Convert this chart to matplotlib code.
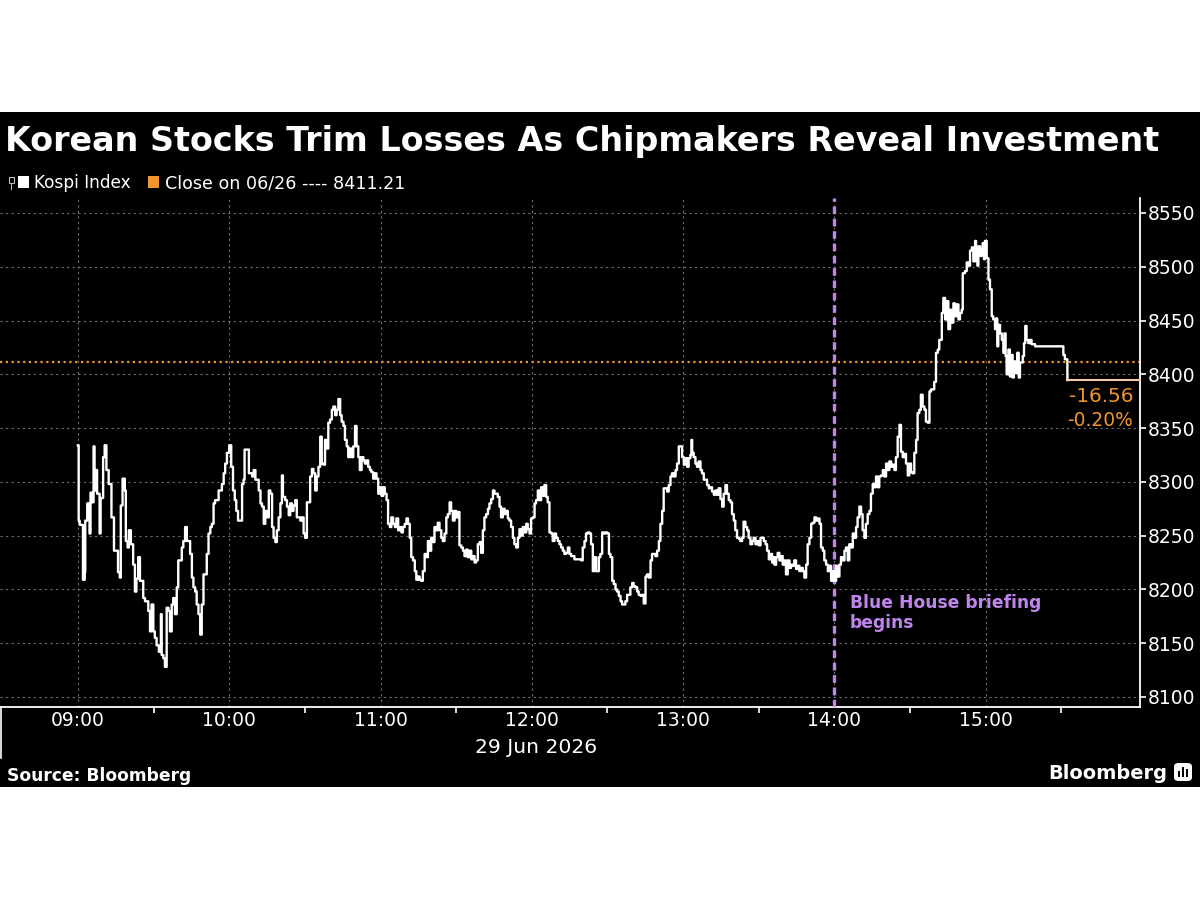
import matplotlib
matplotlib.use("Agg")
import matplotlib.pyplot as plt
import numpy as np
from matplotlib.patches import Rectangle, FancyBboxPatch
from matplotlib.lines import Line2D

# ---------------- data (minutes after 09:00, Kospi index level) ----------------
min_0900 = [0, 0.3, 0.7, 2.0, 2.7, 2.9, 3.7, 4.6, 5.0, 5.6, 6.2, 6.6, 6.9, 7.6, 8.6, 9.0,
            10.0, 10.6, 11.3, 12.2, 13.3, 14.3, 15.9, 16.6, 17.0, 17.7, 18.6, 19.0, 19.7,
            20.2, 21.0, 21.9, 22.6, 23.2, 23.9, 24.6, 25.9, 26.6, 27.9, 28.6, 29.2, 29.9,
            30.5, 31.2, 32.1, 32.9, 33.2, 33.9, 34.5, 35.2, 35.9, 36.5, 37.2, 37.8, 38.5,
            39.2, 39.8, 41.2, 41.8, 42.5, 43.2, 44.5, 45.2, 45.8, 46.5, 47.1, 47.8, 48.5,
            49.1, 49.8, 51.1, 51.8, 52.5, 53.1, 53.8, 54.4, 55.8, 57.1, 57.8, 58.4, 59.1]
val_0900 = [8334, 8264, 8260, 8209, 8216, 8264, 8280, 8252, 8290, 8281, 8333, 8292, 8311, 8289, 8252, 8285,
            8323, 8334, 8311, 8298, 8267, 8236, 8216, 8211, 8278, 8303, 8292, 8245, 8239,
            8255, 8242, 8223, 8198, 8210, 8230, 8208, 8192, 8189, 8180, 8161, 8186, 8161,
            8155, 8148, 8142, 8177, 8139, 8136, 8128, 8183, 8180, 8161, 8186, 8192, 8177,
            8202, 8227, 8239, 8245, 8258, 8245, 8233, 8211, 8202, 8198, 8186, 8177, 8158,
            8186, 8214, 8233, 8252, 8258, 8261, 8280, 8283, 8292, 8298, 8308, 8317, 8327]

min_1000 = [60.0, 60.8, 61.5, 62.2, 62.8, 63.5, 64.4, 65.1, 65.7, 66.1, 67.8, 69.1, 69.7, 70.4,
            71.7, 72.4, 73.0, 73.7, 74.3, 75.0, 75.7, 76.3, 77.0, 77.6, 78.3, 78.9, 79.6,
            80.3, 80.9, 81.3, 82.2, 82.9, 83.6, 84.2, 84.9, 85.5, 86.2, 86.8, 88.2, 88.8,
            89.5, 90.1, 90.8, 92.1, 92.8, 93.4, 94.1, 94.7, 95.4, 96.1, 96.7, 97.4, 98.0,
            98.7, 99.3, 100.0, 100.7, 101.3, 102.0, 102.6, 103.3, 104.0, 104.6, 105.3,
            105.9, 106.6, 107.2, 107.9, 108.6, 109.2, 109.9, 110.5, 111.2, 111.8, 112.5,
            113.2, 113.8, 114.5, 115.1, 115.8, 116.4, 117.1, 117.8, 118.4, 119.1, 119.7]
val_1000 = [8334, 8314, 8292, 8283, 8273, 8264, 8264, 8298, 8302, 8330, 8308, 8305, 8311, 8302,
            8292, 8280, 8277, 8261, 8273, 8267, 8292, 8289, 8258, 8248, 8244, 8255, 8267,
            8280, 8306, 8286, 8283, 8277, 8269, 8280, 8273, 8278, 8283, 8267, 8264, 8267,
            8252, 8248, 8281, 8305, 8312, 8308, 8292, 8305, 8314, 8342, 8317, 8316, 8339,
            8331, 8355, 8358, 8367, 8370, 8362, 8367, 8377, 8362, 8356, 8352,
            8339, 8333, 8323, 8331, 8323, 8333, 8352, 8333, 8323, 8311, 8323,
            8320, 8317, 8320, 8314, 8311, 8309, 8303, 8308, 8303, 8289, 8295]

min_1100 = [120.4, 121.1, 121.7, 122.4, 123.0, 123.7, 124.3, 125.0, 125.7, 126.3, 127.0, 127.6,
            128.3, 128.9, 129.6, 130.3, 130.9, 131.6, 132.2, 132.9, 133.6, 134.2, 134.9,
            135.5, 136.1, 136.8, 137.5, 138.1, 138.8, 139.5, 140.1, 140.8, 141.4, 142.1,
            142.7, 143.4, 144.1, 144.7, 145.4, 146.1, 146.7, 147.4, 148.0, 148.7, 149.4,
            150.0, 150.7, 151.3, 152.0, 152.7, 153.3, 154.0, 154.6, 155.3, 156.0, 156.6,
            157.3, 157.9, 158.6, 159.3, 159.9, 160.6, 161.2, 161.9, 162.6, 163.2, 163.9,
            164.6, 165.2, 165.9, 166.5, 167.2, 167.8, 168.5, 169.2, 169.8, 170.5, 171.1,
            171.8, 172.5, 173.1, 173.8, 174.5, 175.1, 175.8, 176.4, 177.1, 177.8, 178.4,
            179.1, 179.7]
val_1100 = [8287, 8295, 8289, 8283, 8261, 8258, 8267, 8261, 8258, 8266, 8255, 8258,
            8253, 8258, 8261, 8266, 8261, 8248, 8230, 8227, 8217, 8209, 8212,
            8209, 8208, 8217, 8233, 8230, 8245, 8236, 8248, 8244, 8258, 8255,
            8262, 8255, 8248, 8245, 8252, 8267, 8270, 8281, 8273, 8264, 8273,
            8267, 8272, 8241, 8239, 8236, 8231, 8237, 8230, 8236, 8228, 8231,
            8225, 8227, 8242, 8244, 8234, 8255, 8267, 8270, 8275, 8280, 8284,
            8292, 8289, 8289, 8286, 8277, 8267, 8275, 8270, 8273, 8266, 8264,
            8258, 8248, 8242, 8239, 8248, 8256, 8250, 8258, 8253, 8261, 8256,
            8252, 8266]

min_1200 = [180.4, 181.1, 181.7, 182.4, 183.0, 183.7, 184.4, 185.0, 185.7, 186.3, 187.0, 187.7,
            188.3, 189.0, 189.6, 190.3, 191.0, 191.6, 192.3, 192.9, 193.6, 194.3, 194.9,
            195.6, 196.2, 196.9, 198.2, 199.6, 200.2, 200.9, 201.5, 202.2, 202.9, 203.5,
            204.2, 204.9, 205.5, 206.6, 207.2, 207.9, 208.6, 209.2, 209.9, 210.6, 211.2,
            211.9, 212.5, 213.2, 213.8, 214.5, 215.2, 215.8, 216.5, 217.1, 217.8, 218.5,
            219.1, 219.8, 220.4, 221.1, 221.8, 222.4, 223.1, 223.8, 224.4, 225.1, 225.7,
            226.4, 227.1, 227.7, 228.4, 229.0, 229.7, 230.4, 231.0, 231.7, 232.3, 233.0,
            233.7, 234.3, 235.0, 235.6, 236.3, 237.0, 237.6, 238.3, 238.9, 239.6]
val_1200 = [8267, 8280, 8283, 8292, 8283, 8295, 8287, 8297, 8286, 8281, 8253, 8252,
            8245, 8252, 8248, 8245, 8242, 8239, 8236, 8233, 8234, 8239, 8233,
            8231, 8231, 8228, 8228, 8227, 8239, 8245, 8252, 8253, 8252, 8242,
            8217, 8230, 8217, 8230, 8233, 8253, 8252, 8253, 8252, 8233, 8230,
            8208, 8205, 8200, 8198, 8194, 8189, 8186, 8186, 8189, 8195, 8195,
            8202, 8206, 8203, 8202, 8198, 8195, 8194, 8195, 8187, 8212, 8214,
            8211, 8227, 8233, 8233, 8231, 8236, 8245, 8261, 8273, 8294, 8294,
            8291, 8297, 8305, 8308, 8305, 8311, 8317, 8333, 8333, 8323]

min_1300 = [240.3, 240.9, 241.6, 242.2, 242.9, 243.3, 243.6, 244.2, 244.9, 245.5, 246.2, 246.9,
            247.5, 248.2, 248.9, 249.5, 250.2, 250.8, 251.5, 252.2, 252.8, 253.5, 254.1,
            254.8, 255.5, 256.1, 256.8, 257.4, 258.1, 258.8, 259.4, 260.1, 260.7, 261.4,
            262.1, 262.7, 263.4, 264.0, 264.7, 265.4, 266.0, 266.7, 267.4, 268.0, 268.7,
            269.3, 270.0, 270.7, 271.3, 272.0, 272.7, 273.3, 274.0, 274.7, 275.3, 275.6,
            276.2, 276.9, 277.5, 278.2, 278.9, 279.5, 280.2, 280.8, 281.5, 282.2, 282.8,
            283.5, 284.1, 284.8, 285.5, 286.1, 286.8, 287.5, 288.1, 288.8, 289.4, 290.1,
            290.8, 291.4, 292.1, 292.7, 293.4, 294.1, 294.7, 295.4, 296.0, 296.7, 297.4,
            298.0, 298.7, 299.3]
val_1300 = [8316, 8322, 8314, 8322, 8325, 8339, 8327, 8323, 8317, 8314, 8319, 8311,
            8308, 8302, 8302, 8297, 8294, 8295, 8291, 8288, 8292, 8288, 8294,
            8284, 8277, 8289, 8297, 8289, 8283, 8281, 8270, 8264, 8255, 8248,
            8247, 8245, 8248, 8263, 8258, 8255, 8248, 8242, 8245, 8248, 8242,
            8245, 8241, 8248, 8248, 8245, 8242, 8236, 8228, 8233, 8225, 8230,
            8223, 8230, 8234, 8227, 8231, 8223, 8227, 8214, 8227, 8220, 8223,
            8222, 8227, 8219, 8222, 8217, 8220, 8217, 8211, 8223, 8242, 8248,
            8261, 8262, 8267, 8264, 8266, 8261, 8239, 8236, 8227, 8223, 8217,
            8222, 8208, 8217]

min_1400 = [300.0, 300.7, 301.3, 302.0, 302.6, 303.3, 304.0, 304.6, 305.3, 305.9, 306.6, 307.3,
            307.9, 308.6, 309.2, 309.9, 310.6, 311.2, 311.9, 312.5, 313.2, 313.9, 314.5,
            315.2, 315.9, 316.5, 317.2, 317.8, 318.5, 319.2, 319.8, 320.5, 321.1, 321.8,
            322.5, 323.1, 323.8, 324.4, 325.1, 325.8, 326.4, 327.1, 327.7, 328.4, 329.1,
            329.7, 330.4, 331.0, 331.7, 332.4, 333.0, 333.7, 334.3, 335.0, 335.7, 336.3,
            337.0, 337.7, 338.3, 339.0, 339.6, 340.3, 341.0, 341.6, 342.6, 343.2, 343.9,
            344.5, 345.2, 345.9, 346.5, 347.2, 347.8, 348.5, 349.2, 349.8, 350.5, 350.9,
            351.8, 352.5, 353.1, 353.8, 354.5, 355.1, 355.8, 356.2, 356.7, 357.1, 357.8,
            358.4, 358.8, 359.3, 359.7]
val_1400 = [8208, 8222, 8212, 8223, 8230, 8227, 8236, 8239, 8227, 8242, 8239, 8252,
            8248, 8258, 8267, 8277, 8270, 8255, 8248, 8261, 8270, 8273, 8289,
            8298, 8295, 8305, 8295, 8305, 8306, 8311, 8305, 8317, 8311, 8319,
            8314, 8316, 8311, 8323, 8342, 8353, 8328, 8323, 8326, 8317, 8306,
            8317, 8309, 8308, 8327, 8339, 8364, 8367, 8381, 8370, 8367, 8356,
            8355, 8384, 8386, 8386, 8393, 8420, 8423, 8432, 8457, 8471, 8451,
            8468, 8442, 8460, 8448, 8466, 8454, 8465, 8451, 8457, 8460, 8494,
            8496, 8504, 8501, 8515, 8518, 8505, 8524, 8507, 8501, 8519, 8510,
            8516, 8522, 8507, 8524]

min_1500 = [360.4, 361.1, 361.7, 362.4, 363.0, 363.7, 364.1, 364.6, 365.0, 365.7, 366.4, 367.0,
            367.4, 367.9, 368.3, 369.0, 369.6, 370.3, 370.7, 371.2, 372.0, 372.5, 373.1,
            373.6, 374.3, 374.7, 375.2, 375.7, 376.2, 376.9, 377.6, 378.2, 378.9, 379.6,
            390.8, 391.4, 392.4]
val_1500 = [8508, 8488, 8479, 8454, 8451, 8442, 8452, 8426, 8446, 8438, 8432, 8420,
            8438, 8417, 8400, 8423, 8398, 8418, 8397, 8412, 8401, 8420, 8397,
            8411, 8411, 8417, 8429, 8445, 8432, 8429, 8432, 8428, 8428, 8426,
            8418, 8414, 8394.65]

prev_close = 8411.21          # Close on 06/26
net_change = -16.56
pct_change = -0.20
event_minute = 300            # 14:00 Blue House briefing

hour_labels = ["09:00", "10:00", "11:00", "12:00", "13:00", "14:00", "15:00"]
y_ticks = [8100, 8150, 8200, 8250, 8300, 8350, 8400, 8450, 8500, 8550]

title = "Korean Stocks Trim Losses As Chipmakers Reveal Investment"
date_label = "29 Jun 2026"

# ---------------- assemble ----------------
minutes = np.array(min_0900 + min_1000 + min_1100 + min_1200 + min_1300 + min_1400 + min_1500)
kospi = np.array(val_0900 + val_1000 + val_1100 + val_1200 + val_1300 + val_1400 + val_1500)

W, H = 1200, 900
def fx(px):
    return px / W
def fy(py):
    return 1 - py / H

ORANGE = "#F0962E"
PURPLE = "#BE86EC"
GRID = "#6e6e6e"
FONT = "DejaVu Sans"

plt.rcParams["font.family"] = [FONT]
fig = plt.figure(figsize=(12, 9), dpi=100)
fig.patch.set_facecolor("white")
fig.add_artist(Rectangle((0, fy(787)), 1, (787 - 112) / H, transform=fig.transFigure,
                         facecolor="black", edgecolor="none", zorder=-10))

X0, X1 = -30.9, 421.2
Y0, Y1 = 8090.7, 8563.9
ax = fig.add_axes([0, fy(707), fx(1140), (707 - 198) / H])
ax.set_facecolor("black")
ax.set_xlim(X0, X1)
ax.set_ylim(Y0, Y1)

# grid
ax.set_yticks(y_ticks)
ax.set_xticks([60 * i for i in range(len(hour_labels))])
ax.set_xticklabels(hour_labels)
ax.set_xticks([30 + 60 * i for i in range(len(hour_labels))], minor=True)
ax.grid(which="major", color=GRID, linestyle=(0, (2, 3)), linewidth=0.8, zorder=0)
ax.set_axisbelow(True)

# spines / ticks
for s in ["left", "top"]:
    ax.spines[s].set_visible(False)
for s in ["right", "bottom"]:
    ax.spines[s].set_color("white")
    ax.spines[s].set_linewidth(1.3)
ax.yaxis.tick_right()
ax.tick_params(axis="y", which="major", colors="white", length=4, width=1.2, pad=1.5,
               labelsize=13.5, labelcolor="white")
ax.tick_params(axis="x", which="major", length=0, pad=3, labelsize=13.5, labelcolor="white")
ax.tick_params(axis="x", which="minor", length=4, width=1.2, color="white")

# reference lines
ax.axhline(prev_close, color=ORANGE, linestyle=(0, (1, 1.6)), linewidth=1.6, zorder=2)
ax.axvline(event_minute, color=PURPLE, linestyle=(0, (2.3, 1.4)), linewidth=2.4, zorder=3)

# main series
ax.step(minutes, kospi, where="post", color="white", linewidth=1.7, zorder=4)
ax.plot([minutes[-1], X1], [kospi[-1], kospi[-1]], color="#F6C9A6", linewidth=1.5, zorder=4)

renderer = fig.canvas.get_renderer()
def fit(t, width_px):
    bb = t.get_window_extent(renderer)
    t.set_fontsize(t.get_fontsize() * width_px / bb.width)
    return t

# change labels
fit(fig.text(fx(1133), fy(402), f"{net_change:.2f}", color=ORANGE, ha="right",
             va="baseline", fontsize=14), 65)
fit(fig.text(fx(1133), fy(426), f"{pct_change:.2f}%", color=ORANGE, ha="right",
             va="baseline", fontsize=14), 66)

# event annotation
fit(fig.text(fx(850), fy(594), "Blue House briefing\nbegins", color=PURPLE, ha="left",
             va="top", fontsize=12, fontweight="bold", linespacing=1.15), 190)

# title
fit(fig.text(fx(5), fy(151), title, color="white", ha="left", va="baseline",
             fontsize=26, fontweight="bold"), 1157)

# legend
fig.add_artist(Rectangle((fx(8.5), fy(183)), 5 / W, 6 / H, transform=fig.transFigure,
                         facecolor="none", edgecolor="#bbbbbb", linewidth=0.8))
fig.add_artist(Line2D([fx(11), fx(11)], [fy(183), fy(189)], transform=fig.transFigure,
                      color="#bbbbbb", linewidth=0.8))
fig.add_artist(Rectangle((fx(18), fy(188)), 11 / W, 12 / H, transform=fig.transFigure,
                         facecolor="white", edgecolor="none"))
fit(fig.text(fx(34), fy(188), "Kospi Index", color="white", ha="left", va="baseline",
             fontsize=12), 97)
fig.add_artist(Rectangle((fx(148), fy(188)), 11 / W, 12 / H, transform=fig.transFigure,
                         facecolor=ORANGE, edgecolor="none"))
fit(fig.text(fx(165), fy(188), f"Close on 06/26 ---- {prev_close:.2f}", color="white",
             ha="left", va="baseline", fontsize=12), 239)

# date label and day separator
fit(fig.text(fx(536), fy(753), date_label, color="white", ha="center", va="baseline",
             fontsize=14), 122)
fig.add_artist(Line2D([fx(1), fx(1)], [fy(707), fy(758)], transform=fig.transFigure,
                      color="white", linewidth=1.2))

# footer
fit(fig.text(fx(7), fy(781), "Source: Bloomberg", color="white", ha="left", va="baseline",
             fontsize=12, fontweight="bold"), 184)
fit(fig.text(fx(1048), fy(779), "Bloomberg", color="white", ha="left", va="baseline",
             fontsize=15, fontweight="bold"), 119)
fig.add_artist(FancyBboxPatch((fx(1174), fy(781)), 18 / W, 18 / H, transform=fig.transFigure,
                              boxstyle="round,pad=0,rounding_size=0.004",
                              facecolor="white", edgecolor="none"))
for i, hgt in enumerate([6, 10, 8]):
    fig.add_artist(Rectangle((fx(1177.5 + 4 * i), fy(777)), 2.5 / W, hgt / H,
                             transform=fig.transFigure, facecolor="black", edgecolor="none"))

fig.savefig("out.png", dpi=100, facecolor="white")
